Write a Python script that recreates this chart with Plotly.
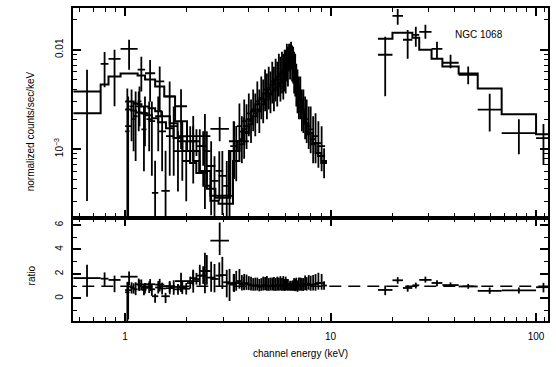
import numpy as np
import plotly.graph_objects as go
from plotly.subplots import make_subplots

# ---------------- spectra (energy bin edges in keV, rates in counts/s/keV) ----------------
# low-energy concentrator spectrum
lecs_edges = [0.56, 0.76, 0.83, 0.95, 1.15, 1.25, 1.40, 1.55, 1.75, 2.0, 2.3, 2.6, 3.2, 3.6, 4.0]
lecs_rate = [0.0038, 0.0072, 0.0081, 0.0102, 0.0063, 0.0058, 0.0048, 0.0034, 0.0027,
             0.00135, 0.00135, 0.0016, 0.0012, 0.0015]
lecs_err_hi = [0.0025, 0.0023, 0.0019, 0.0024, 0.0022, 0.0021, 0.0020, 0.0014, 0.0013,
               0.0008, 0.0009, 0.0005, 0.0007, 0.0006]
lecs_err_lo = [0.0035, 0.0030, 0.0054, 0.0039, 0.0025, 0.0028, 0.0024, 0.0017, 0.0017,
               0.0009, 0.0011, 0.0004, 0.0007, 0.0007]
lecs_model = [0.00229, 0.00447, 0.00537, 0.00575, 0.00550, 0.00501, 0.00427, 0.00339, 0.00191,
              0.000955, 0.000603, 0.000339, 0.000955, 0.00120]

# first medium-energy spectrum
s0_edges = [1.0, 1.05, 1.1, 1.15, 1.2, 1.3, 1.4, 1.5, 1.65, 1.8, 2.0, 2.15, 2.3, 2.5, 2.75, 3.0,
            3.25, 3.5, 3.7, 3.9, 4.1, 4.3, 4.5, 4.7, 4.9, 5.1, 5.3, 5.5, 5.7, 5.9, 6.05, 6.2,
            6.35, 6.5, 6.65, 6.8, 7.0, 7.25, 7.5, 7.8, 8.2, 8.7, 9.4]
s0_rate = [0.00151, 0.00269, 0.00214, 0.00302, 0.00229, 0.00191, 0.00214, 0.00038, 0.00170,
           0.00120, 0.00120, 0.00120, 0.00107, 0.000676, 0.000603, 0.000427, 0.00107, 0.00170,
           0.00191, 0.00229, 0.00251, 0.00302, 0.00316, 0.00398, 0.00398, 0.00479, 0.00501,
           0.00575, 0.00603, 0.00631, 0.00794, 0.00955, 0.0100, 0.00759, 0.00603, 0.00398,
           0.00339, 0.00251, 0.00200, 0.00158, 0.00135, 0.00107]
s0_err_hi = [0.00256, 0.00129, 0.00166, 0.00125, 0.00110, 0.00111, 0.00125, 0.00058, 0.00099,
             0.00071, 0.00050, 0.00038, 0.00044, 0.00052, 0.00035, 0.00033, 0.00084, 0.00118,
             0.00125, 0.00134, 0.00147, 0.00177, 0.00221, 0.00233, 0.00278, 0.00280, 0.00312,
             0.00337, 0.00352, 0.00369, 0.00354, 0.00193, 0.00200, 0.00311, 0.00309, 0.00233,
             0.00198, 0.00147, 0.00116, 0.00111, 0.00094, 0.00063]
s0_err_lo = [0.00800, 0.00149, 0.00138, 0.00132, 0.00122, 0.00137, 0.00119, 0.00120, 0.00116,
             0.00072, 0.00044, 0.00035, 0.00039, 0.00046, 0.00030, 0.00040, 0.00053, 0.00075,
             0.00076, 0.00094, 0.00100, 0.00120, 0.00116, 0.00158, 0.00147, 0.00191, 0.00199,
             0.00236, 0.00240, 0.00251, 0.00315, 0.00352, 0.00369, 0.00302, 0.00264, 0.00169,
             0.00139, 0.00106, 0.00085, 0.00067, 0.00063, 0.00047]
s0_model = [0.00302, 0.00302, 0.00288, 0.00282, 0.00269, 0.00257, 0.00240, 0.00214, 0.00182,
            0.00135, 0.000955, 0.000759, 0.000575, 0.000398, 0.000324, 0.000324, 0.000955,
            0.00120, 0.00158, 0.00200, 0.00240, 0.00282, 0.00324, 0.00363, 0.00407, 0.00447,
            0.00490, 0.00537, 0.00575, 0.00631, 0.00724, 0.00912, 0.00955, 0.00724, 0.00575,
            0.00427, 0.00316, 0.00240, 0.00182, 0.00145, 0.00115, 0.000851]

# second medium-energy spectrum
s1_edges = [1.0, 1.07, 1.13, 1.2, 1.27, 1.35, 1.45, 1.58, 1.72, 1.9, 2.07, 2.22, 2.4, 2.6, 2.85,
            3.1, 3.35, 3.6, 3.8, 4.0, 4.2, 4.4, 4.6, 4.8, 5.0, 5.2, 5.4, 5.6, 5.8, 5.97, 6.12,
            6.28, 6.42, 6.57, 6.72, 6.9, 7.12, 7.38, 7.65, 8.0, 8.45, 9.0, 9.6]
s1_rate = [0.00170, 0.00200, 0.00269, 0.00158, 0.00200, 0.000363, 0.00151, 0.00135, 0.000955,
           0.000759, 0.00120, 0.00107, 0.000955, 0.000479, 0.000537, 0.000339, 0.000955,
           0.00126, 0.00170, 0.00191, 0.00229, 0.00240, 0.00302, 0.00339, 0.00363, 0.00398,
           0.00457, 0.00501, 0.00537, 0.00603, 0.00724, 0.00851, 0.00794, 0.00631, 0.00457,
           0.00339, 0.00251, 0.00214, 0.00170, 0.00126, 0.00115, 0.000759]
s1_err_hi = [0.00169, 0.00102, 0.00111, 0.00111, 0.00102, 0.00040, 0.00089, 0.00079, 0.00056,
             0.00044, 0.00050, 0.00051, 0.00056, 0.00037, 0.00042, 0.00034, 0.00075, 0.00088,
             0.00112, 0.00125, 0.00134, 0.00158, 0.00199, 0.00236, 0.00240, 0.00278, 0.00302,
             0.00350, 0.00375, 0.00397, 0.00346, 0.00297, 0.00306, 0.00324, 0.00267, 0.00198,
             0.00147, 0.00125, 0.00099, 0.00088, 0.00076, 0.00026]
s1_err_lo = [0.00600, 0.00105, 0.00118, 0.00098, 0.00105, 0.00110, 0.00091, 0.00081, 0.00058,
             0.00046, 0.00044, 0.00047, 0.00048, 0.00033, 0.00032, 0.00040, 0.00048, 0.00054,
             0.00070, 0.00076, 0.00094, 0.00095, 0.00120, 0.00139, 0.00134, 0.00158, 0.00188,
             0.00199, 0.00221, 0.00240, 0.00297, 0.00350, 0.00315, 0.00268, 0.00188, 0.00139,
             0.00100, 0.00088, 0.00070, 0.00054, 0.00050, 0.00025]
s1_model = [0.00251, 0.00245, 0.00234, 0.00229, 0.00219, 0.00204, 0.00186, 0.00162, 0.00129,
            0.000955, 0.000724, 0.000575, 0.000427, 0.000302, 0.000282, 0.000282, 0.000759,
            0.00112, 0.00145, 0.00178, 0.00214, 0.00251, 0.00282, 0.00316, 0.00355, 0.00389,
            0.00427, 0.00468, 0.00501, 0.00562, 0.00676, 0.00794, 0.00759, 0.00575, 0.00427,
            0.00316, 0.00240, 0.00182, 0.00141, 0.00112, 0.000912, 0.000724]

# hard X-ray spectrum
pds_edges = [17, 20, 22.5, 25, 27, 31, 35, 42, 52, 68, 100, 118]
pds_rate = [0.0089, 0.0219, 0.0126, 0.0141, 0.0151, 0.0102, 0.0074, 0.0056, 0.0025, 0.00145, 0.00129]
pds_err_hi = [0.0046, 0.0038, 0.0032, 0.0029, 0.0027, 0.0018, 0.0015, 0.0012, 0.0011, 0.00055, 0.0005]
pds_err_lo = [0.0055, 0.0041, 0.0045, 0.0034, 0.0022, 0.0021, 0.0009, 0.0011, 0.0010, 0.00056, 0.0006]
pds_model = [0.0129, 0.0148, 0.0148, 0.0132, 0.0100, 0.0081, 0.0068, 0.00575, 0.00407, 0.00224, 0.00141]

spectra = [
    (lecs_edges, lecs_rate, lecs_err_hi, lecs_err_lo, lecs_model),
    (s0_edges, s0_rate, s0_err_hi, s0_err_lo, s0_model),
    (s1_edges, s1_rate, s1_err_hi, s1_err_lo, s1_model),
    (pds_edges, pds_rate, pds_err_hi, pds_err_lo, pds_model),
]

# axis tick values
x_major = [1, 10, 100]
x_minor = [0.6, 0.7, 0.8, 0.9, 2, 3, 4, 5, 6, 7, 8, 9, 20, 30, 40, 50, 60, 70, 80, 90, 110]
y_major = [0.001, 0.01]
y_major_text = ["10<sup>\u22123</sup>", "0.01"]
y_minor = [2e-4, 3e-4, 4e-4, 5e-4, 6e-4, 7e-4, 8e-4, 9e-4,
           2e-3, 3e-3, 4e-3, 5e-3, 6e-3, 7e-3, 8e-3, 9e-3, 0.02]
r_major = [0, 2, 4, 6]
r_minor = [-1, 1, 3, 5]

# ---------------- figure ----------------
W, H = 556, 367
L, R, T, B = 73, 7, 6, 46
split = (321 - 217) / (H - T - B)

fig = make_subplots(rows=2, cols=1, shared_xaxes=True, vertical_spacing=0)

INK = "black"
bar_w = 1.8

for edges, rate, ehi, elo, model in spectra:
    lo = np.array(edges[:-1], float)
    hi = np.array(edges[1:], float)
    cen = np.sqrt(lo * hi)
    rate = np.array(rate, float)
    ehi = np.array(ehi, float)
    elo = np.array(elo, float)
    model = np.array(model, float)

    ex = dict(type="data", symmetric=False, array=hi - cen, arrayminus=cen - lo,
              thickness=bar_w, width=0, color=INK)

    # data crosses
    fig.add_trace(go.Scatter(
        x=cen, y=rate, mode="markers", marker=dict(size=1, color=INK),
        error_x=ex,
        error_y=dict(type="data", symmetric=False, array=ehi, arrayminus=elo,
                     thickness=bar_w, width=0, color=INK),
        showlegend=False, hoverinfo="skip"), row=1, col=1)

    # folded model as a histogram
    fig.add_trace(go.Scatter(
        x=list(edges), y=list(model) + [model[-1]], mode="lines", line_shape="hv",
        line=dict(color=INK, width=2.0), showlegend=False, hoverinfo="skip"), row=1, col=1)

    # data / model ratio
    fig.add_trace(go.Scatter(
        x=cen, y=rate / model, mode="markers", marker=dict(size=1, color=INK),
        error_x=ex,
        error_y=dict(type="data", symmetric=False, array=ehi / model, arrayminus=elo / model,
                     thickness=bar_w, width=0, color=INK),
        showlegend=False, hoverinfo="skip"), row=2, col=1)

# unity line in the ratio panel
fig.add_trace(go.Scatter(
    x=[0.5, 130], y=[1, 1], mode="lines",
    line=dict(color=INK, width=1.5, dash="12px,7px"),
    showlegend=False, hoverinfo="skip"), row=2, col=1)

FONT = "Liberation Sans, Arial, sans-serif"
axis_common = dict(showline=True, linecolor=INK, linewidth=1.8, mirror="allticks",
                   ticks="inside", tickcolor=INK, tickwidth=1.5, ticklen=8,
                   showgrid=False, zeroline=False)

x_range = [np.log10(0.5575), np.log10(114.3)]
fig.update_xaxes(type="log", range=x_range, tickmode="array", tickvals=x_major,
                 minor=dict(tickmode="array", tickvals=x_minor, ticks="inside",
                            ticklen=4.5, tickwidth=1.3, tickcolor=INK, showgrid=False),
                 **axis_common)
fig.update_xaxes(showticklabels=False, row=1, col=1)
fig.update_xaxes(showticklabels=True, ticktext=["1", "10", "100"], ticklabelstandoff=5,
                 tickfont=dict(family=FONT, size=10, color=INK), row=2, col=1)

fig.update_yaxes(type="log", range=[-3.69, -1.58], domain=[split, 1],
                 tickmode="array", tickvals=y_major, ticktext=y_major_text, tickangle=-90,
                 ticklabelstandoff=4,
                 tickfont=dict(family=FONT, size=10, color=INK),
                 minor=dict(tickmode="array", tickvals=y_minor, ticks="inside",
                            ticklen=4.5, tickwidth=1.3, tickcolor=INK, showgrid=False),
                 **axis_common, row=1, col=1)
fig.update_yaxes(range=[-1.85, 6.6], domain=[0, split],
                 tickmode="array", tickvals=r_major, tickangle=-90,
                 ticklabelstandoff=4,
                 tickfont=dict(family=FONT, size=10, color=INK),
                 minor=dict(tickmode="array", tickvals=r_minor, ticks="inside",
                            ticklen=4.5, tickwidth=1.3, tickcolor=INK, showgrid=False),
                 **axis_common, row=2, col=1)

pw, ph = W - L - R, H - T - B


def px_x(p):
    return (p - L) / pw


def px_y(p):
    return (H - B - p) / ph


annots = [
    dict(text="normalized counts/sec/keV", x=px_x(30), y=px_y(130), textangle=-90),
    dict(text="ratio", x=px_x(31), y=px_y(275), textangle=-90),
    dict(text="channel energy (keV)", x=px_x(301), y=px_y(354), textangle=0),
    dict(text="NGC 1068", x=px_x(480), y=px_y(33), textangle=0),
]
for a in annots:
    fig.add_annotation(xref="paper", yref="paper", showarrow=False,
                       xanchor="center", yanchor="middle",
                       font=dict(family=FONT, size=10, color=INK), **a)

fig.update_layout(width=W, height=H, margin=dict(l=L, r=R, t=T, b=B),
                  paper_bgcolor="white", plot_bgcolor="white")

fig.write_html("out.html")
